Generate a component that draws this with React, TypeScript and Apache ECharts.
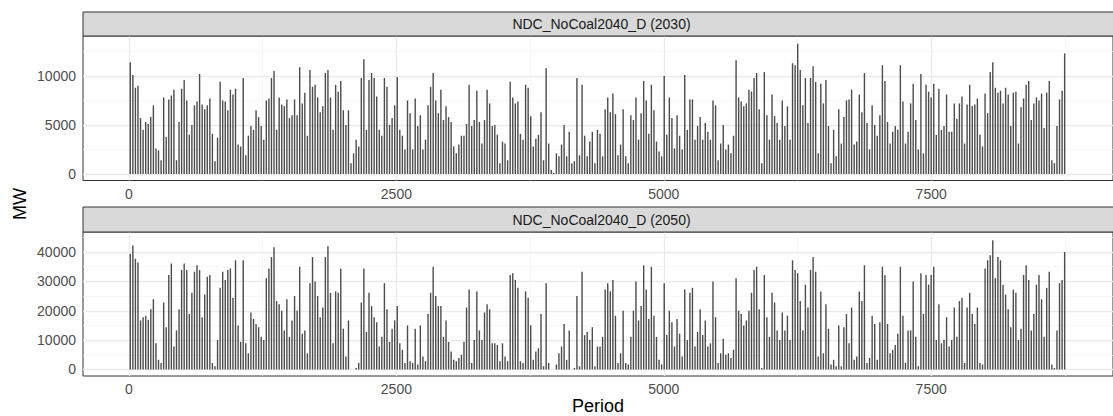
import React, { useEffect, useRef } from "react";
import * as echarts from "echarts";

// ---- data (daily peaks of the hourly series, MW) ----
const panelTitles = ["NDC_NoCoal2040_D (2030)", "NDC_NoCoal2040_D (2050)"];
const periodTicks = [0, 2500, 5000, 7500];
const periodMinor = [1250, 3750, 6250, 8750];
const topTicks = [0, 5000, 10000];
const topMinor = [2500, 7500, 12500];
const bottomTicks = [0, 10000, 20000, 30000, 40000];
const bottomMinor = [5000, 15000, 25000, 35000, 45000];
const hoursPerDay = 24;

const peak2030 = [
  11400, 10100, 8800, 9000, 5700, 4500, 5300, 5100, 5800, 7000, 2600, 2400, 1400, 7800, 3800, 7600, 8000, 8600, 1400, 5300,
  8700, 9600, 7500, 4000, 5000, 7000, 7400, 10200, 7100, 6600, 7000, 7700, 4100, 1300, 3700, 9400, 7500, 7400, 6500, 8600,
  8100, 8700, 3000, 2800, 9800, 1900, 3900, 4900, 4500, 6500, 5800, 4900, 3500, 7500, 7700, 9800, 10500, 4500, 7800, 7100,
  6900, 7600, 5700, 6000, 7600, 6000, 10900, 7200, 8300, 3900, 10600, 8900, 9100,
  7800, 6300, 6900, 10300, 10600, 7800, 4500, 9100, 8400, 9500, 6500, 5000, 6500, 1100, 2100, 3500, 2800, 9800, 11700, 4500,
  9600, 10300, 9800, 7900, 4500, 3900, 9800, 8900, 5000, 5700, 7000, 9900, 4500, 3900, 2500, 7500, 6200, 2500, 7700, 4900,
  6000, 2500, 3500, 7000, 8900, 10300, 7500, 6200, 8600, 5500, 6900, 5800, 5300, 2800, 2100, 3000, 3900, 3900, 5100, 9100,
  4900, 5500, 8500, 5300, 3100, 5500, 8600, 7200, 4900, 5000, 4000, 1100, 3300, 3100, 1400, 9400, 7800, 7200,
  7400, 4100, 3500, 9100, 8800, 5900, 2800, 3600, 4000, 6300, 1400, 10800, 3100, 400, 100, 2100, 1800, 3000, 5000, 1800,
  4300, 1100, 1300, 9800, 1900, 9100, 3900, 1800, 3300, 4300, 1100, 4500, 4100, 1800, 6600, 7800, 6300, 8200, 6100, 1900,
  3000, 6600, 1800, 1100, 6000, 5500, 7800, 3500, 6200, 9500, 7500, 4100, 9100, 6500, 3300, 2300, 1800, 10000, 4000, 7800,
  5700, 2600, 6000, 3900, 2500, 10100, 4500, 7600, 7600, 3500, 4900, 5800, 3500, 5200, 4300, 3500, 7500,
  7000, 1400, 3100, 5000, 2500, 3000, 2100, 3900, 11600, 7800, 7400, 6900, 7200, 8600, 8400, 9800, 10300, 6600, 1100, 10400,
  6000, 3500, 8100, 5900, 5200, 3500, 7500, 4900, 6900, 3500, 11300, 11100, 13300, 10600, 7000, 9800, 5200, 9800, 11000, 9400,
  2100, 9200, 7200, 9600, 4900, 1100, 4500, 1800, 6600, 3100, 5800, 7500, 7600, 8600, 3000, 3300, 8100, 6300, 10300, 5200,
  2500, 7000, 5000, 3900, 6000, 11100, 9500, 5300, 3100, 4300, 4900, 4500, 11100, 7400, 3100, 4300, 7200, 9200,
  5500, 2500, 10200, 2100, 9100, 8400, 7800, 9200, 4000, 8700, 4500, 4900, 8100, 4300, 4300, 7200, 5600, 7200, 7900, 3100,
  7100, 9100, 6900, 7100, 7700, 4000, 2800, 8200, 6200, 10400, 11400, 8800, 8300, 8500, 7200, 8800, 8100, 4900, 8300, 8400,
  3100, 6800, 7700, 9100, 9500, 5500, 7200, 7800, 7500, 8200, 4700, 8300, 9500, 1400, 1100, 4900, 7600, 8500, 12300,
];

const peak2050 = [
  39400, 42200, 37700, 36400, 16700, 17800, 18300, 16900, 20500, 23900, 8900, 3300, 2200, 22800, 14400, 32200, 36100, 7800, 13300, 20500,
  33900, 36100, 33900, 18900, 26100, 33300, 35500, 33900, 17800, 25500, 31600, 32200, 2200, 1100, 10000, 27800, 33300, 30500, 33900, 34400,
  24400, 37200, 15000, 9400, 37200, 8900, 5500, 19400, 17200, 15500, 14400, 11100, 10000, 31100, 34400, 38300, 41600, 23300, 22200, 20000,
  13300, 23900, 11100, 16700, 25000, 20000, 35000, 12200, 13300, 5500, 29400, 38300, 30000,
  25000, 17800, 21100, 38300, 42000, 26100, 8900, 26600, 26100, 34400, 13900, 4400, 16700, 0, 0, 500, 2200, 22800, 34400, 12800,
  26100, 21600, 17800, 16100, 7800, 11100, 29400, 20500, 9400, 13900, 16700, 21600, 8900, 6700, 2200, 15000, 2800, 2200, 13900, 1700,
  15000, 4400, 2800, 18900, 26100, 35000, 25000, 21600, 21600, 11100, 16700, 9400, 6100, 3300, 2800, 3900, 5000, 9400, 21100, 27200,
  2200, 10000, 26600, 13300, 10000, 19400, 22200, 20500, 8900, 8900, 8300, 2800, 8900, 4400, 2800, 32200, 32800, 30500,
  27800, 2800, 2200, 26600, 24400, 15000, 3300, 6100, 7200, 18900, 1100, 29400, 2200, 0, 0, 1700, 5500, 7800, 15500, 3300,
  13300, 0, 500, 25000, 1100, 33300, 11700, 12800, 10000, 14400, 1100, 7800, 7800, 11100, 27200, 29400, 26600, 30500, 18300, 2200,
  5500, 20000, 2200, 1700, 11100, 20000, 30000, 16700, 21600, 35500, 27200, 17200, 35000, 18300, 11100, 3300, 1700, 29400, 11700, 20000,
  16100, 7800, 17200, 12200, 4400, 27200, 10000, 26100, 27800, 7800, 12800, 20500, 11700, 16700, 7800, 8900, 30000,
  17800, 2200, 5500, 10500, 5000, 5500, 3900, 6700, 31100, 20000, 18900, 15000, 16700, 20000, 26100, 33900, 35000, 20500, 500, 32200,
  17800, 11100, 26100, 22800, 13300, 10000, 19400, 13300, 18300, 10000, 37200, 33900, 32800, 23300, 13300, 28900, 21100, 33900, 38300, 33300,
  4400, 26600, 5500, 22200, 13900, 1700, 3300, 1100, 15000, 1100, 14400, 18900, 8900, 21100, 3300, 4400, 26600, 23300, 35500, 2200,
  3900, 18300, 15500, 3300, 16100, 35000, 32200, 15500, 5500, 6700, 8300, 12200, 35000, 18300, 2200, 13300, 13300, 30000,
  11100, 1100, 32800, 18900, 32200, 28900, 32200, 35000, 10000, 22200, 8900, 10000, 17800, 7800, 10000, 21100, 11100, 23300, 24400, 2200,
  21100, 26100, 18900, 15500, 21100, 2200, 1700, 34400, 37200, 38900, 44000, 31100, 38300, 37200, 28900, 25500, 20500, 14400, 27200, 26100,
  10000, 13900, 32200, 35500, 30500, 13300, 18900, 28900, 32200, 23900, 11100, 27800, 33300, 1700, 500, 13300, 29400, 30500, 40000,
];

const FONT = "'Liberation Sans', Arial, Helvetica, sans-serif";

export default function App() {
  const ref = useRef<HTMLDivElement>(null);

  useEffect(() => {
    if (!ref.current) return;
    const chart = echarts.init(ref.current, undefined, { renderer: "svg" });

    const left = 83;
    const right = -7;
    const panelW = 1113 - left - right;
    const grids = [
      { top: 36, height: 144.5 },
      { top: 232, height: 145 },
    ];
    const strips = [
      { y: 12, h: 24 },
      { y: 207, h: 25 },
    ];
    const xRange = { min: -430, max: 9200 };
    const yRanges = [
      { min: -671, max: 14082 },
      { min: -2230, max: 46830 },
    ];
    const yTickSets = [topTicks, bottomTicks];
    const yMinorSets = [topMinor, bottomMinor];
    const peaks = [peak2030, peak2050];

    const labelStyle = { color: "#4d4d4d", fontSize: 14, fontFamily: FONT };
    const majorLine = { color: "#ebebeb", width: 1.3, type: "solid" as const };
    const minorLine = { color: "#f2f2f2", width: 0.7, type: "solid" as const };

    const xAxis = grids.map((_, i) => ({
      type: "value",
      gridIndex: i,
      min: xRange.min,
      max: xRange.max,
      axisLine: { show: false },
      splitLine: { show: false },
      axisTick: { show: true, customValues: periodTicks, length: 4, lineStyle: { color: "#333333", width: 1 } },
      axisLabel: { ...labelStyle, customValues: periodTicks, margin: 6, formatter: (v: number) => String(v) },
      ...(i === 1
        ? {
            name: "Period",
            nameLocation: "middle",
            nameGap: 21,
            nameTextStyle: { fontSize: 18, color: "#000000", fontFamily: FONT },
          }
        : {}),
    }));

    const yAxis = grids.map((_, i) => ({
      type: "value",
      gridIndex: i,
      min: yRanges[i].min,
      max: yRanges[i].max,
      axisLine: { show: false },
      splitLine: { show: false },
      axisTick: { show: true, customValues: yTickSets[i], length: 4, lineStyle: { color: "#333333", width: 1 } },
      axisLabel: { ...labelStyle, customValues: yTickSets[i], margin: 7, formatter: (v: number) => String(v) },
    }));

    const series: any[] = [];
    grids.forEach((_, i) => {
      const lines: any[] = [];
      periodMinor.forEach((v) => lines.push({ xAxis: v, lineStyle: minorLine }));
      yMinorSets[i].forEach((v) => lines.push({ yAxis: v, lineStyle: minorLine }));
      periodTicks.forEach((v) => lines.push({ xAxis: v, lineStyle: majorLine }));
      yTickSets[i].forEach((v) => lines.push({ yAxis: v, lineStyle: majorLine }));
      series.push({
        type: "line",
        xAxisIndex: i,
        yAxisIndex: i,
        data: [],
        z: 1,
        silent: true,
        markLine: {
          silent: true,
          z: 1,
          symbol: ["none", "none"],
          label: { show: false },
          emphasis: { disabled: true },
          data: lines,
        },
      });
      series.push({
        type: "bar",
        xAxisIndex: i,
        yAxisIndex: i,
        z: 3,
        barWidth: 1.4,
        silent: true,
        itemStyle: { color: "rgba(25,25,25,0.78)" },
        data: peaks[i].map((v, d) => [d * hoursPerDay + hoursPerDay / 2, v]),
      });
    });

    const graphic: any[] = [];
    strips.forEach((s, i) => {
      graphic.push({
        type: "rect",
        shape: { x: left, y: s.y, width: panelW, height: s.h },
        style: { fill: "#d9d9d9", stroke: "#333333", lineWidth: 1 },
        z: 10,
      });
      graphic.push({
        type: "text",
        x: left + panelW / 2,
        y: s.y + s.h / 2,
        style: {
          text: panelTitles[i],
          fill: "#1a1a1a",
          fontSize: 14,
          fontFamily: FONT,
          align: "center",
          verticalAlign: "middle",
        },
        z: 11,
      });
    });
    graphic.push({
      type: "text",
      x: 20,
      y: 204,
      rotation: Math.PI / 2,
      style: {
        text: "MW",
        fill: "#000000",
        fontSize: 18,
        fontFamily: FONT,
        align: "center",
        verticalAlign: "middle",
      },
      z: 11,
    });

    chart.setOption({
      animation: false,
      backgroundColor: "#ffffff",
      grid: grids.map((g) => ({
        left,
        right,
        top: g.top,
        height: g.height,
        show: true,
        backgroundColor: "#ffffff",
        borderColor: "#333333",
        borderWidth: 1,
      })),
      xAxis,
      yAxis,
      series,
      graphic,
    });

    return () => chart.dispose();
  }, []);

  return (
    <div
      ref={ref}
      style={{ position: "fixed", left: 0, top: 0, width: 1113, height: 416, background: "#fff" }}
    />
  );
}
